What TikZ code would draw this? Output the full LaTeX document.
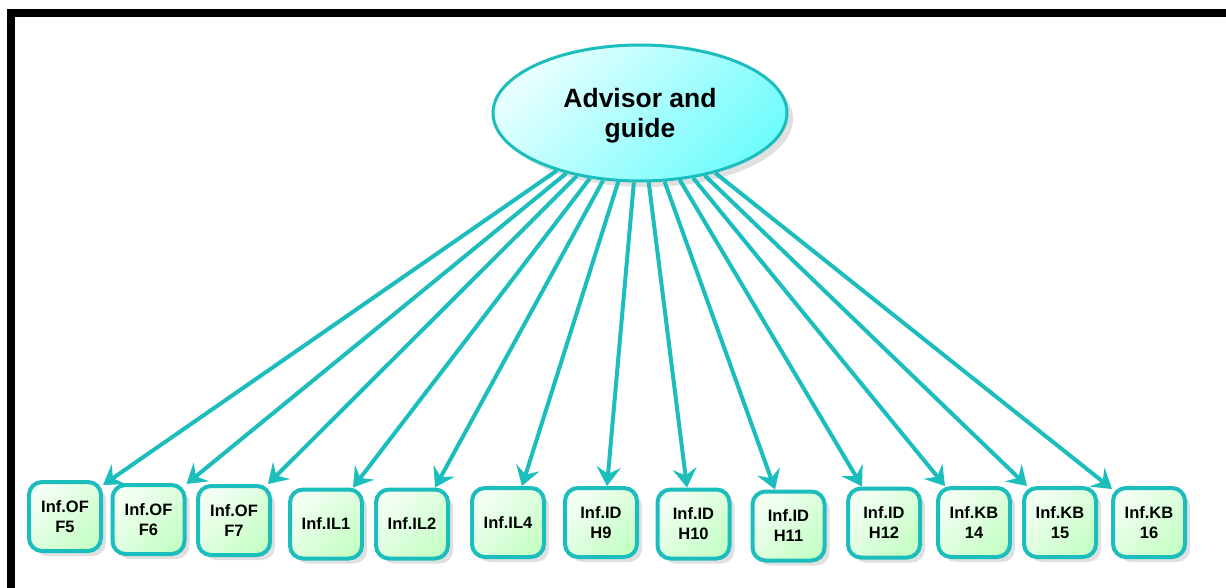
\documentclass[tikz,border=0pt]{standalone}
\usepackage{fontspec}
\setmainfont{Liberation Sans}
\usetikzlibrary{shapes.geometric,arrows.meta,shadows}
\definecolor{teal1}{HTML}{1BBDBD}
\definecolor{boxlight}{HTML}{F4FFF4}
\definecolor{boxdark}{HTML}{C6FFC6}
\definecolor{elllight}{HTML}{E8FFFF}
\definecolor{elldark}{HTML}{70FCFC}
\tikzset{
  infobox/.style={draw=teal1, line width=4pt, rounded corners=13pt,
    minimum width=72pt, minimum height=69pt, inner sep=0pt, align=center,
    top color=boxlight, bottom color=boxdark, shading angle=45,
    font=\fontsize{16.5}{20}\selectfont\bfseries,
    drop shadow={shadow xshift=5pt, shadow yshift=-5pt, opacity=0.12, fill=black}},
  mainell/.style={ellipse, draw=teal1, line width=3pt,
    minimum width=294pt, minimum height=136pt, inner sep=0pt, align=center,
    top color=elllight, bottom color=elldark, shading angle=45,
    font=\fontsize{26.5}{30}\selectfont\bfseries,
    drop shadow={shadow xshift=6pt, shadow yshift=-6pt, opacity=0.12, fill=black}},
  arr/.style={draw=teal1, line width=4pt,
    -{Stealth[length=19pt, width=24pt, inset=7pt]}},
  frameline/.style={fill=black}
}
\begin{document}
\begin{tikzpicture}[x=1pt, y=-1pt]
\useasboundingbox (0,0) rectangle (1226,588);
\fill[white] (0,0) rectangle (1226,588);
% frame
\fill[frameline] (7,9) rectangle (1226,17);
\fill[frameline] (7,9) rectangle (15,588);

\node[mainell] (adv) at (640,113) {\raisebox{-9.5pt}[0pt][0pt]{\begin{tabular}{@{}c@{}}Advisor and\\guide\end{tabular}}};

\node[infobox] (f5)  at (65,516.5)   {Inf.OF\\F5};
\node[infobox] (f6)  at (148.5,519.5) {Inf.OF\\F6};
\node[infobox] (f7)  at (234,520.5)  {Inf.OF\\F7};
\node[infobox] (il1) at (326,524)    {Inf.IL1};
\node[infobox] (il2) at (412,524)    {Inf.IL2};
\node[infobox] (il4) at (508,522.5)  {Inf.IL4};
\node[infobox] (h9)  at (601,522.5)  {Inf.ID\\H9};
\node[infobox] (h10) at (693.5,524)  {Inf.ID\\H10};
\node[infobox] (h11) at (788.5,526)  {Inf.ID\\H11};
\node[infobox] (h12) at (884,523)    {Inf.ID\\H12};
\node[infobox] (kb14) at (974,522.5) {Inf.KB\\14};
\node[infobox] (kb15) at (1060,522.5) {Inf.KB\\15};
\node[infobox] (kb16) at (1149,522.5) {Inf.KB\\16};

\draw[arr] (adv) -- ([xshift=38pt,yshift=-5pt]f5.north);
\draw[arr] (adv) -- ([xshift=38pt,yshift=-1pt]f6.north);
\draw[arr] (adv) -- ([xshift=34pt]f7.north);
\draw[arr] (adv) -- ([xshift=27pt]il1.north);
\draw[arr] (adv) -- ([xshift=23pt]il2.north);
\draw[arr] (adv) -- ([xshift=14pt]il4.north);
\draw[arr] (adv) -- ([xshift=6pt]h9.north);
\draw[arr] (adv) -- ([xshift=-6.5pt]h10.north);
\draw[arr] (adv) -- ([xshift=-13.5pt]h11.north);
\draw[arr] (adv) -- ([xshift=-22pt]h12.north);
\draw[arr] (adv) -- ([xshift=-29pt]kb14.north);
\draw[arr] (adv) -- ([xshift=-33pt]kb15.north);
\draw[arr] (adv) -- ([xshift=-37pt,yshift=-3pt]kb16.north);
\end{tikzpicture}
\end{document}
